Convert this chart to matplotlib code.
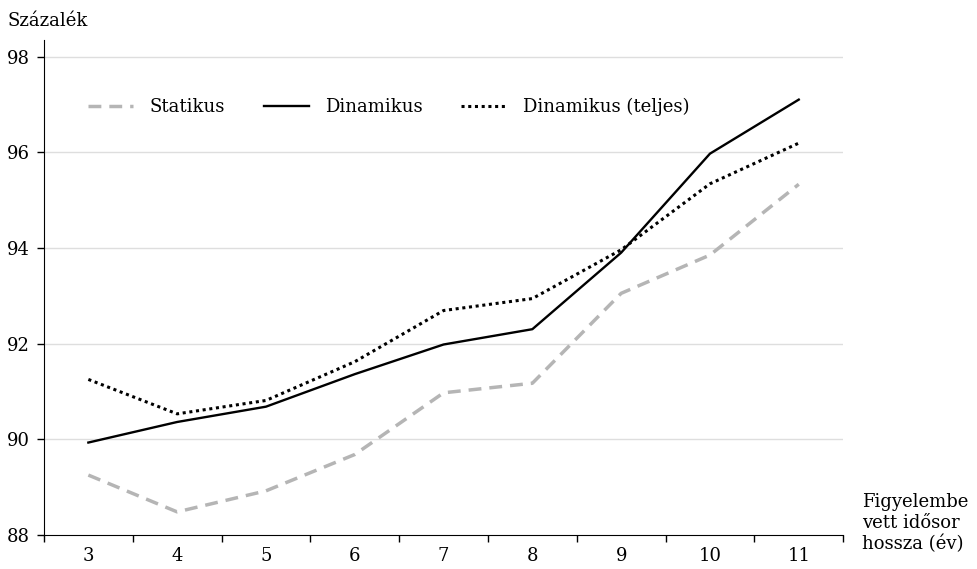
import matplotlib
matplotlib.use("Agg")
import matplotlib.pyplot as plt
import numpy as np

plt.rcParams["font.family"] = ["DejaVu Serif"]

years = [3, 4, 5, 6, 7, 8, 9, 10, 11]
statikus = [89.25, 88.48, 88.92, 89.68, 90.97, 91.17, 93.05, 93.85, 95.33]
dinamikus = [89.93, 90.36, 90.68, 91.36, 91.98, 92.30, 93.90, 95.97, 97.10]
dinamikus_teljes = [91.25, 90.53, 90.81, 91.62, 92.69, 92.94, 93.96, 95.34, 96.19]
yticks = [88, 90, 92, 94, 96, 98]

fs = 13

fig = plt.figure(figsize=(9.77, 5.69), dpi=100)
ax = fig.add_axes([0.045, 0.06, 0.818, 0.87])

ax.plot(years, statikus, color="#b5b5b5", lw=2.5, dashes=(3.7, 2.3), label="Statikus")
ax.plot(years, dinamikus, color="black", lw=1.7, label="Dinamikus")
ax.plot(years, dinamikus_teljes, color="black", lw=2.2, dashes=(1, 1.2), label="Dinamikus (teljes)")

ax.set_xlim(2.5, 11.5)
ax.set_ylim(88, 98.35)
ax.set_yticks(yticks)
ax.set_yticklabels([str(v) for v in yticks], fontsize=fs)
ax.set_xticks(years)
ax.set_xticklabels([str(v) for v in years], fontsize=fs)
ax.set_xticks(np.arange(2.5, 12, 1), minor=True)
ax.tick_params(axis="x", which="major", length=0, pad=9)
ax.tick_params(axis="x", which="minor", length=5, width=1)
ax.tick_params(axis="y", length=5, width=1, pad=5)

for v in yticks[1:]:
    ax.axhline(v, color="#dedede", lw=1, zorder=0)

for s in ["top", "right"]:
    ax.spines[s].set_visible(False)

fig.legend(loc="center left", bbox_to_anchor=(0.090, 0.812), ncol=3, frameon=False,
           fontsize=fs, handlelength=2.5, columnspacing=2.15, handletextpad=0.9,
           borderpad=0, borderaxespad=0)

fig.text(0.008, 0.963, "Százalék", fontsize=fs, ha="left", va="center")
fig.text(0.882, 0.080, "Figyelembe\nvett idősor\nhossza (év)", fontsize=fs,
         ha="left", va="center", linespacing=1.2)

fig.savefig("out.png", dpi=100)
